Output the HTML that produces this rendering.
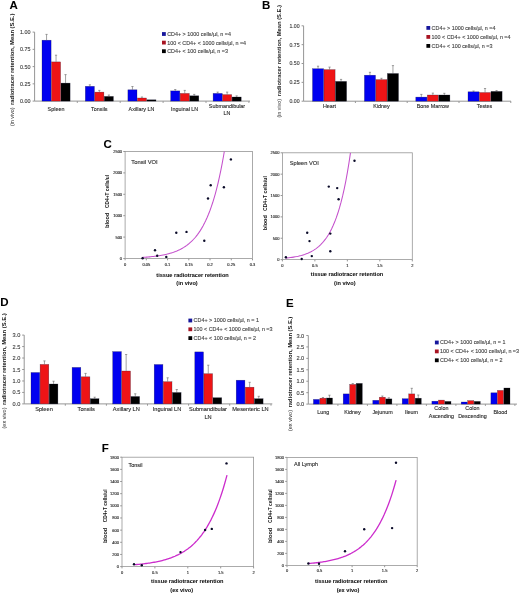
<!DOCTYPE html>
<html><head><meta charset="utf-8"><style>
html,body{margin:0;padding:0;background:#fff;}
svg{display:block;font-family:"Liberation Sans",sans-serif;filter:blur(0.35px);}
</style></head><body>
<svg width="520" height="595" viewBox="0 0 520 595">
<rect width="520" height="595" fill="#fff"/>
<text x="9.40" y="8.60" font-size="11.5" text-anchor="start" font-weight="bold" fill="#000" stroke="#000" stroke-width="0.06" >A</text>
<text x="262.00" y="9.10" font-size="11.5" text-anchor="start" font-weight="bold" fill="#000" stroke="#000" stroke-width="0.06" >B</text>
<text x="103.60" y="148.20" font-size="11.5" text-anchor="start" font-weight="bold" fill="#000" stroke="#000" stroke-width="0.06" >C</text>
<text x="0.20" y="306.00" font-size="11.5" text-anchor="start" font-weight="bold" fill="#000" stroke="#000" stroke-width="0.06" >D</text>
<text x="286.00" y="306.60" font-size="11.5" text-anchor="start" font-weight="bold" fill="#000" stroke="#000" stroke-width="0.06" >E</text>
<text x="101.80" y="452.40" font-size="11.5" text-anchor="start" font-weight="bold" fill="#000" stroke="#000" stroke-width="0.06" >F</text>
<line x1="34.60" y1="32.10" x2="34.60" y2="101.10" stroke="#969696" stroke-width="1.0"/>
<line x1="34.60" y1="101.10" x2="250.00" y2="101.10" stroke="#969696" stroke-width="1.0"/>
<line x1="32.60" y1="101.10" x2="34.60" y2="101.10" stroke="#969696" stroke-width="1.0"/>
<text x="30.60" y="103.04" font-size="5.4" text-anchor="end" font-weight="normal" fill="#404040" stroke="#404040" stroke-width="0.12" >0.00</text>
<line x1="32.60" y1="83.85" x2="34.60" y2="83.85" stroke="#969696" stroke-width="1.0"/>
<text x="30.60" y="85.79" font-size="5.4" text-anchor="end" font-weight="normal" fill="#404040" stroke="#404040" stroke-width="0.12" >0.25</text>
<line x1="32.60" y1="66.60" x2="34.60" y2="66.60" stroke="#969696" stroke-width="1.0"/>
<text x="30.60" y="68.54" font-size="5.4" text-anchor="end" font-weight="normal" fill="#404040" stroke="#404040" stroke-width="0.12" >0.50</text>
<line x1="32.60" y1="49.35" x2="34.60" y2="49.35" stroke="#969696" stroke-width="1.0"/>
<text x="30.60" y="51.29" font-size="5.4" text-anchor="end" font-weight="normal" fill="#404040" stroke="#404040" stroke-width="0.12" >0.75</text>
<line x1="32.60" y1="32.10" x2="34.60" y2="32.10" stroke="#969696" stroke-width="1.0"/>
<text x="30.60" y="34.04" font-size="5.4" text-anchor="end" font-weight="normal" fill="#404040" stroke="#404040" stroke-width="0.12" >1.00</text>
<line x1="77.30" y1="101.10" x2="77.30" y2="102.90" stroke="#969696" stroke-width="1.0"/>
<line x1="120.20" y1="101.10" x2="120.20" y2="102.90" stroke="#969696" stroke-width="1.0"/>
<line x1="163.10" y1="101.10" x2="163.10" y2="102.90" stroke="#969696" stroke-width="1.0"/>
<line x1="206.00" y1="101.10" x2="206.00" y2="102.90" stroke="#969696" stroke-width="1.0"/>
<line x1="248.90" y1="101.10" x2="248.90" y2="102.90" stroke="#969696" stroke-width="1.0"/>
<line x1="46.55" y1="34.40" x2="46.55" y2="40.00" stroke="#707070" stroke-width="0.65"/>
<line x1="45.45" y1="34.40" x2="47.65" y2="34.40" stroke="#707070" stroke-width="0.65"/>
<rect x="42.00" y="40.20" width="9.10" height="60.90" fill="#0000f0" stroke="#101030" stroke-opacity="0.55" stroke-width="0.45"/>
<line x1="56.05" y1="55.20" x2="56.05" y2="61.70" stroke="#707070" stroke-width="0.65"/>
<line x1="54.95" y1="55.20" x2="57.15" y2="55.20" stroke="#707070" stroke-width="0.65"/>
<rect x="51.50" y="61.90" width="9.10" height="39.20" fill="#ee1416" stroke="#101030" stroke-opacity="0.55" stroke-width="0.45"/>
<line x1="65.55" y1="74.60" x2="65.55" y2="82.90" stroke="#707070" stroke-width="0.65"/>
<line x1="64.45" y1="74.60" x2="66.65" y2="74.60" stroke="#707070" stroke-width="0.65"/>
<rect x="61.00" y="83.10" width="9.10" height="18.00" fill="#000000" stroke="#101030" stroke-opacity="0.55" stroke-width="0.45"/>
<line x1="89.85" y1="84.80" x2="89.85" y2="86.10" stroke="#707070" stroke-width="0.65"/>
<line x1="88.75" y1="84.80" x2="90.95" y2="84.80" stroke="#707070" stroke-width="0.65"/>
<rect x="85.30" y="86.30" width="9.10" height="14.80" fill="#0000f0" stroke="#101030" stroke-opacity="0.55" stroke-width="0.45"/>
<line x1="99.35" y1="90.40" x2="99.35" y2="91.90" stroke="#707070" stroke-width="0.65"/>
<line x1="98.25" y1="90.40" x2="100.45" y2="90.40" stroke="#707070" stroke-width="0.65"/>
<rect x="94.80" y="92.10" width="9.10" height="9.00" fill="#ee1416" stroke="#101030" stroke-opacity="0.55" stroke-width="0.45"/>
<line x1="108.85" y1="95.00" x2="108.85" y2="96.20" stroke="#707070" stroke-width="0.65"/>
<line x1="107.75" y1="95.00" x2="109.95" y2="95.00" stroke="#707070" stroke-width="0.65"/>
<rect x="104.30" y="96.40" width="9.10" height="4.70" fill="#000000" stroke="#101030" stroke-opacity="0.55" stroke-width="0.45"/>
<line x1="132.45" y1="86.50" x2="132.45" y2="89.60" stroke="#707070" stroke-width="0.65"/>
<line x1="131.35" y1="86.50" x2="133.55" y2="86.50" stroke="#707070" stroke-width="0.65"/>
<rect x="127.90" y="89.80" width="9.10" height="11.30" fill="#0000f0" stroke="#101030" stroke-opacity="0.55" stroke-width="0.45"/>
<line x1="141.95" y1="97.00" x2="141.95" y2="97.80" stroke="#707070" stroke-width="0.65"/>
<line x1="140.85" y1="97.00" x2="143.05" y2="97.00" stroke="#707070" stroke-width="0.65"/>
<rect x="137.40" y="98.00" width="9.10" height="3.10" fill="#ee1416" stroke="#101030" stroke-opacity="0.55" stroke-width="0.45"/>
<rect x="146.90" y="99.80" width="9.10" height="1.30" fill="#000000" stroke="#101030" stroke-opacity="0.55" stroke-width="0.45"/>
<line x1="175.25" y1="89.50" x2="175.25" y2="90.70" stroke="#707070" stroke-width="0.65"/>
<line x1="174.15" y1="89.50" x2="176.35" y2="89.50" stroke="#707070" stroke-width="0.65"/>
<rect x="170.70" y="90.90" width="9.10" height="10.20" fill="#0000f0" stroke="#101030" stroke-opacity="0.55" stroke-width="0.45"/>
<line x1="184.75" y1="90.40" x2="184.75" y2="93.20" stroke="#707070" stroke-width="0.65"/>
<line x1="183.65" y1="90.40" x2="185.85" y2="90.40" stroke="#707070" stroke-width="0.65"/>
<rect x="180.20" y="93.40" width="9.10" height="7.70" fill="#ee1416" stroke="#101030" stroke-opacity="0.55" stroke-width="0.45"/>
<line x1="194.25" y1="94.40" x2="194.25" y2="95.60" stroke="#707070" stroke-width="0.65"/>
<line x1="193.15" y1="94.40" x2="195.35" y2="94.40" stroke="#707070" stroke-width="0.65"/>
<rect x="189.70" y="95.80" width="9.10" height="5.30" fill="#000000" stroke="#101030" stroke-opacity="0.55" stroke-width="0.45"/>
<line x1="217.65" y1="92.10" x2="217.65" y2="93.20" stroke="#707070" stroke-width="0.65"/>
<line x1="216.55" y1="92.10" x2="218.75" y2="92.10" stroke="#707070" stroke-width="0.65"/>
<rect x="213.10" y="93.40" width="9.10" height="7.70" fill="#0000f0" stroke="#101030" stroke-opacity="0.55" stroke-width="0.45"/>
<line x1="227.15" y1="92.10" x2="227.15" y2="94.40" stroke="#707070" stroke-width="0.65"/>
<line x1="226.05" y1="92.10" x2="228.25" y2="92.10" stroke="#707070" stroke-width="0.65"/>
<rect x="222.60" y="94.60" width="9.10" height="6.50" fill="#ee1416" stroke="#101030" stroke-opacity="0.55" stroke-width="0.45"/>
<line x1="236.65" y1="95.90" x2="236.65" y2="96.80" stroke="#707070" stroke-width="0.65"/>
<line x1="235.55" y1="95.90" x2="237.75" y2="95.90" stroke="#707070" stroke-width="0.65"/>
<rect x="232.10" y="97.00" width="9.10" height="4.10" fill="#000000" stroke="#101030" stroke-opacity="0.55" stroke-width="0.45"/>
<text x="56.00" y="111.14" font-size="5.4" text-anchor="middle" font-weight="normal" fill="#2a2a2a" stroke="#2a2a2a" stroke-width="0.12" >Spleen</text>
<text x="99.30" y="111.14" font-size="5.4" text-anchor="middle" font-weight="normal" fill="#2a2a2a" stroke="#2a2a2a" stroke-width="0.12" >Tonsils</text>
<text x="141.50" y="111.14" font-size="5.4" text-anchor="middle" font-weight="normal" fill="#2a2a2a" stroke="#2a2a2a" stroke-width="0.12" >Axillary LN</text>
<text x="184.60" y="111.14" font-size="5.4" text-anchor="middle" font-weight="normal" fill="#2a2a2a" stroke="#2a2a2a" stroke-width="0.12" >Inguinal LN</text>
<text x="227.00" y="107.69" font-size="5.4" text-anchor="middle" font-weight="normal" fill="#2a2a2a" stroke="#2a2a2a" stroke-width="0.12" >Submandibular</text>
<text x="227.00" y="114.59" font-size="5.4" text-anchor="middle" font-weight="normal" fill="#2a2a2a" stroke="#2a2a2a" stroke-width="0.12" >LN</text>
<rect x="162.00" y="32.10" width="3.80" height="3.80" fill="#16169c"/>
<text x="167.20" y="35.94" font-size="5.4" text-anchor="start" font-weight="normal" fill="#444" stroke="#444" stroke-width="0.12" >CD4+ &gt; 1000 cells/µl, n =4</text>
<rect x="162.00" y="40.70" width="3.80" height="3.80" fill="#a81422"/>
<text x="167.20" y="44.54" font-size="5.4" text-anchor="start" font-weight="normal" fill="#444" stroke="#444" stroke-width="0.12" >100 &lt; CD4+ &lt; 1000 cells/µl, n =4</text>
<rect x="162.00" y="49.30" width="3.80" height="3.80" fill="#000"/>
<text x="167.20" y="53.14" font-size="5.4" text-anchor="start" font-weight="normal" fill="#444" stroke="#444" stroke-width="0.12" >CD4+ &lt; 100 cells/µl, n =3</text>
<text transform="translate(13.70,126.10) rotate(-90)" font-size="5.85" font-weight="normal" fill="#333" textLength="18.70" lengthAdjust="spacingAndGlyphs">(in vivo)</text>
<text transform="translate(13.70,104.90) rotate(-90)" font-size="5.85" font-weight="bold" fill="#111" textLength="91.30" lengthAdjust="spacingAndGlyphs">radiotracer retention, Mean (S.E.)</text>
<line x1="303.60" y1="25.80" x2="303.60" y2="101.20" stroke="#969696" stroke-width="1.0"/>
<line x1="303.60" y1="101.20" x2="511.00" y2="101.20" stroke="#969696" stroke-width="1.0"/>
<line x1="301.60" y1="101.20" x2="303.60" y2="101.20" stroke="#969696" stroke-width="1.0"/>
<text x="299.60" y="103.07" font-size="5.2" text-anchor="end" font-weight="normal" fill="#404040" stroke="#404040" stroke-width="0.12" >0.00</text>
<line x1="301.60" y1="82.35" x2="303.60" y2="82.35" stroke="#969696" stroke-width="1.0"/>
<text x="299.60" y="84.22" font-size="5.2" text-anchor="end" font-weight="normal" fill="#404040" stroke="#404040" stroke-width="0.12" >0.25</text>
<line x1="301.60" y1="63.50" x2="303.60" y2="63.50" stroke="#969696" stroke-width="1.0"/>
<text x="299.60" y="65.37" font-size="5.2" text-anchor="end" font-weight="normal" fill="#404040" stroke="#404040" stroke-width="0.12" >0.50</text>
<line x1="301.60" y1="44.65" x2="303.60" y2="44.65" stroke="#969696" stroke-width="1.0"/>
<text x="299.60" y="46.52" font-size="5.2" text-anchor="end" font-weight="normal" fill="#404040" stroke="#404040" stroke-width="0.12" >0.75</text>
<line x1="301.60" y1="25.80" x2="303.60" y2="25.80" stroke="#969696" stroke-width="1.0"/>
<text x="299.60" y="27.67" font-size="5.2" text-anchor="end" font-weight="normal" fill="#404040" stroke="#404040" stroke-width="0.12" >1.00</text>
<line x1="355.40" y1="101.20" x2="355.40" y2="103.00" stroke="#969696" stroke-width="1.0"/>
<line x1="407.20" y1="101.20" x2="407.20" y2="103.00" stroke="#969696" stroke-width="1.0"/>
<line x1="459.00" y1="101.20" x2="459.00" y2="103.00" stroke="#969696" stroke-width="1.0"/>
<line x1="510.80" y1="101.20" x2="510.80" y2="103.00" stroke="#969696" stroke-width="1.0"/>
<line x1="318.05" y1="66.20" x2="318.05" y2="68.50" stroke="#707070" stroke-width="0.65"/>
<line x1="316.95" y1="66.20" x2="319.15" y2="66.20" stroke="#707070" stroke-width="0.65"/>
<rect x="312.50" y="68.70" width="11.10" height="32.50" fill="#0000f0" stroke="#101030" stroke-opacity="0.55" stroke-width="0.45"/>
<line x1="329.55" y1="67.10" x2="329.55" y2="69.40" stroke="#707070" stroke-width="0.65"/>
<line x1="328.45" y1="67.10" x2="330.65" y2="67.10" stroke="#707070" stroke-width="0.65"/>
<rect x="324.00" y="69.60" width="11.10" height="31.60" fill="#ee1416" stroke="#101030" stroke-opacity="0.55" stroke-width="0.45"/>
<line x1="341.05" y1="79.40" x2="341.05" y2="81.20" stroke="#707070" stroke-width="0.65"/>
<line x1="339.95" y1="79.40" x2="342.15" y2="79.40" stroke="#707070" stroke-width="0.65"/>
<rect x="335.50" y="81.40" width="11.10" height="19.80" fill="#000000" stroke="#101030" stroke-opacity="0.55" stroke-width="0.45"/>
<line x1="369.95" y1="72.30" x2="369.95" y2="75.00" stroke="#707070" stroke-width="0.65"/>
<line x1="368.85" y1="72.30" x2="371.05" y2="72.30" stroke="#707070" stroke-width="0.65"/>
<rect x="364.40" y="75.20" width="11.10" height="26.00" fill="#0000f0" stroke="#101030" stroke-opacity="0.55" stroke-width="0.45"/>
<line x1="381.45" y1="78.30" x2="381.45" y2="79.40" stroke="#707070" stroke-width="0.65"/>
<line x1="380.35" y1="78.30" x2="382.55" y2="78.30" stroke="#707070" stroke-width="0.65"/>
<rect x="375.90" y="79.60" width="11.10" height="21.60" fill="#ee1416" stroke="#101030" stroke-opacity="0.55" stroke-width="0.45"/>
<line x1="392.95" y1="65.60" x2="392.95" y2="73.30" stroke="#707070" stroke-width="0.65"/>
<line x1="391.85" y1="65.60" x2="394.05" y2="65.60" stroke="#707070" stroke-width="0.65"/>
<rect x="387.40" y="73.50" width="11.10" height="27.70" fill="#000000" stroke="#101030" stroke-opacity="0.55" stroke-width="0.45"/>
<line x1="421.35" y1="94.40" x2="421.35" y2="96.90" stroke="#707070" stroke-width="0.65"/>
<line x1="420.25" y1="94.40" x2="422.45" y2="94.40" stroke="#707070" stroke-width="0.65"/>
<rect x="415.80" y="97.10" width="11.10" height="4.10" fill="#0000f0" stroke="#101030" stroke-opacity="0.55" stroke-width="0.45"/>
<line x1="432.85" y1="93.10" x2="432.85" y2="94.80" stroke="#707070" stroke-width="0.65"/>
<line x1="431.75" y1="93.10" x2="433.95" y2="93.10" stroke="#707070" stroke-width="0.65"/>
<rect x="427.30" y="95.00" width="11.10" height="6.20" fill="#ee1416" stroke="#101030" stroke-opacity="0.55" stroke-width="0.45"/>
<line x1="444.35" y1="93.30" x2="444.35" y2="94.80" stroke="#707070" stroke-width="0.65"/>
<line x1="443.25" y1="93.30" x2="445.45" y2="93.30" stroke="#707070" stroke-width="0.65"/>
<rect x="438.80" y="95.00" width="11.10" height="6.20" fill="#000000" stroke="#101030" stroke-opacity="0.55" stroke-width="0.45"/>
<line x1="473.55" y1="91.00" x2="473.55" y2="91.60" stroke="#707070" stroke-width="0.65"/>
<line x1="472.45" y1="91.00" x2="474.65" y2="91.00" stroke="#707070" stroke-width="0.65"/>
<rect x="468.00" y="91.80" width="11.10" height="9.40" fill="#0000f0" stroke="#101030" stroke-opacity="0.55" stroke-width="0.45"/>
<line x1="485.05" y1="88.50" x2="485.05" y2="92.30" stroke="#707070" stroke-width="0.65"/>
<line x1="483.95" y1="88.50" x2="486.15" y2="88.50" stroke="#707070" stroke-width="0.65"/>
<rect x="479.50" y="92.50" width="11.10" height="8.70" fill="#ee1416" stroke="#101030" stroke-opacity="0.55" stroke-width="0.45"/>
<line x1="496.55" y1="90.60" x2="496.55" y2="91.20" stroke="#707070" stroke-width="0.65"/>
<line x1="495.45" y1="90.60" x2="497.65" y2="90.60" stroke="#707070" stroke-width="0.65"/>
<rect x="491.00" y="91.40" width="11.10" height="9.80" fill="#000000" stroke="#101030" stroke-opacity="0.55" stroke-width="0.45"/>
<text x="329.50" y="107.74" font-size="5.4" text-anchor="middle" font-weight="normal" fill="#2a2a2a" stroke="#2a2a2a" stroke-width="0.12" >Heart</text>
<text x="381.50" y="107.74" font-size="5.4" text-anchor="middle" font-weight="normal" fill="#2a2a2a" stroke="#2a2a2a" stroke-width="0.12" >Kidney</text>
<text x="432.80" y="107.74" font-size="5.4" text-anchor="middle" font-weight="normal" fill="#2a2a2a" stroke="#2a2a2a" stroke-width="0.12" >Bone Marrow</text>
<text x="484.50" y="107.74" font-size="5.4" text-anchor="middle" font-weight="normal" fill="#2a2a2a" stroke="#2a2a2a" stroke-width="0.12" >Testes</text>
<rect x="426.40" y="26.00" width="3.80" height="3.80" fill="#16169c"/>
<text x="431.60" y="29.84" font-size="5.4" text-anchor="start" font-weight="normal" fill="#444" stroke="#444" stroke-width="0.12" >CD4+ &gt; 1000 cells/µl, n =4</text>
<rect x="426.40" y="35.00" width="3.80" height="3.80" fill="#a81422"/>
<text x="431.60" y="38.84" font-size="5.4" text-anchor="start" font-weight="normal" fill="#444" stroke="#444" stroke-width="0.12" >100 &lt; CD4+ &lt; 1000 cells/µl, n =4</text>
<rect x="426.40" y="44.00" width="3.80" height="3.80" fill="#000"/>
<text x="431.60" y="47.84" font-size="5.4" text-anchor="start" font-weight="normal" fill="#444" stroke="#444" stroke-width="0.12" >CD4+ &lt; 100 cells/µl, n =3</text>
<text transform="translate(281.00,117.40) rotate(-90)" font-size="5.85" font-weight="normal" fill="#333" textLength="18.30" lengthAdjust="spacingAndGlyphs">(in vivo)</text>
<text transform="translate(281.00,96.20) rotate(-90)" font-size="5.85" font-weight="bold" fill="#1a1a1a" textLength="91.20" lengthAdjust="spacingAndGlyphs">radiotracer retention, Mean (S.E.)</text>
<rect x="125.1" y="151.5" width="127.4" height="107.0" fill="none" stroke="#969696" stroke-width="0.8"/>
<line x1="123.30" y1="258.50" x2="125.10" y2="258.50" stroke="#969696" stroke-width="1.0"/>
<text x="122.10" y="259.94" font-size="4.0" text-anchor="end" font-weight="normal" fill="#222" stroke="#222" stroke-width="0.12" >0</text>
<line x1="123.30" y1="237.10" x2="125.10" y2="237.10" stroke="#969696" stroke-width="1.0"/>
<text x="122.10" y="238.54" font-size="4.0" text-anchor="end" font-weight="normal" fill="#222" stroke="#222" stroke-width="0.12" >500</text>
<line x1="123.30" y1="215.70" x2="125.10" y2="215.70" stroke="#969696" stroke-width="1.0"/>
<text x="122.10" y="217.14" font-size="4.0" text-anchor="end" font-weight="normal" fill="#222" stroke="#222" stroke-width="0.12" >1000</text>
<line x1="123.30" y1="194.30" x2="125.10" y2="194.30" stroke="#969696" stroke-width="1.0"/>
<text x="122.10" y="195.74" font-size="4.0" text-anchor="end" font-weight="normal" fill="#222" stroke="#222" stroke-width="0.12" >1500</text>
<line x1="123.30" y1="172.90" x2="125.10" y2="172.90" stroke="#969696" stroke-width="1.0"/>
<text x="122.10" y="174.34" font-size="4.0" text-anchor="end" font-weight="normal" fill="#222" stroke="#222" stroke-width="0.12" >2000</text>
<line x1="123.30" y1="151.50" x2="125.10" y2="151.50" stroke="#969696" stroke-width="1.0"/>
<text x="122.10" y="152.94" font-size="4.0" text-anchor="end" font-weight="normal" fill="#222" stroke="#222" stroke-width="0.12" >2500</text>
<line x1="125.10" y1="258.50" x2="125.10" y2="260.30" stroke="#969696" stroke-width="1.0"/>
<text x="125.10" y="265.54" font-size="4.0" text-anchor="middle" font-weight="normal" fill="#222" stroke="#222" stroke-width="0.12" >0</text>
<line x1="146.33" y1="258.50" x2="146.33" y2="260.30" stroke="#969696" stroke-width="1.0"/>
<text x="146.33" y="265.54" font-size="4.0" text-anchor="middle" font-weight="normal" fill="#222" stroke="#222" stroke-width="0.12" >0.05</text>
<line x1="167.57" y1="258.50" x2="167.57" y2="260.30" stroke="#969696" stroke-width="1.0"/>
<text x="167.57" y="265.54" font-size="4.0" text-anchor="middle" font-weight="normal" fill="#222" stroke="#222" stroke-width="0.12" >0.1</text>
<line x1="188.80" y1="258.50" x2="188.80" y2="260.30" stroke="#969696" stroke-width="1.0"/>
<text x="188.80" y="265.54" font-size="4.0" text-anchor="middle" font-weight="normal" fill="#222" stroke="#222" stroke-width="0.12" >0.15</text>
<line x1="210.03" y1="258.50" x2="210.03" y2="260.30" stroke="#969696" stroke-width="1.0"/>
<text x="210.03" y="265.54" font-size="4.0" text-anchor="middle" font-weight="normal" fill="#222" stroke="#222" stroke-width="0.12" >0.2</text>
<line x1="231.27" y1="258.50" x2="231.27" y2="260.30" stroke="#969696" stroke-width="1.0"/>
<text x="231.27" y="265.54" font-size="4.0" text-anchor="middle" font-weight="normal" fill="#222" stroke="#222" stroke-width="0.12" >0.25</text>
<line x1="252.50" y1="258.50" x2="252.50" y2="260.30" stroke="#969696" stroke-width="1.0"/>
<text x="252.50" y="265.54" font-size="4.0" text-anchor="middle" font-weight="normal" fill="#222" stroke="#222" stroke-width="0.12" >0.3</text>
<path d="M142.51,257.39 L143.89,257.30 L145.26,257.21 L146.64,257.11 L148.01,256.99 L149.39,256.87 L150.76,256.74 L152.14,256.60 L153.51,256.45 L154.89,256.29 L156.26,256.11 L157.63,255.92 L159.01,255.72 L160.38,255.49 L161.76,255.25 L163.13,254.99 L164.51,254.71 L165.88,254.41 L167.26,254.09 L168.63,253.73 L170.01,253.35 L171.38,252.94 L172.76,252.50 L174.13,252.02 L175.51,251.50 L176.88,250.94 L178.26,250.34 L179.63,249.69 L181.01,248.98 L182.38,248.22 L183.76,247.40 L185.13,246.52 L186.51,245.56 L187.88,244.52 L189.26,243.41 L190.63,242.20 L192.01,240.90 L193.38,239.50 L194.76,237.98 L196.13,236.34 L197.51,234.57 L198.88,232.66 L200.26,230.60 L201.63,228.37 L203.01,225.96 L204.38,223.36 L205.75,220.56 L207.13,217.53 L208.50,214.26 L209.88,210.72 L211.25,206.91 L212.63,202.79 L214.00,198.34 L215.38,193.54 L216.75,188.35 L218.13,182.75 L219.50,176.70 L220.88,170.17 L222.25,163.11 L223.63,155.49 L224.31,151.50" fill="none" stroke="#c450cc" stroke-width="1.05"/>
<circle cx="142.60" cy="258.20" r="1.2" fill="#0a0a28"/>
<circle cx="155.00" cy="250.20" r="1.2" fill="#0a0a28"/>
<circle cx="157.20" cy="255.80" r="1.2" fill="#0a0a28"/>
<circle cx="166.30" cy="256.90" r="1.2" fill="#0a0a28"/>
<circle cx="176.30" cy="232.70" r="1.2" fill="#0a0a28"/>
<circle cx="186.50" cy="231.90" r="1.2" fill="#0a0a28"/>
<circle cx="204.30" cy="240.70" r="1.2" fill="#0a0a28"/>
<circle cx="208.00" cy="198.50" r="1.2" fill="#0a0a28"/>
<circle cx="210.70" cy="185.30" r="1.2" fill="#0a0a28"/>
<circle cx="223.90" cy="187.20" r="1.2" fill="#0a0a28"/>
<circle cx="230.90" cy="159.40" r="1.2" fill="#0a0a28"/>
<text x="131.30" y="163.59" font-size="5.8" text-anchor="start" font-weight="normal" fill="#2a2a2a" stroke="#2a2a2a" stroke-width="0.12" >Tonsil VOI</text>
<text x="192.50" y="276.52" font-size="5.6" text-anchor="middle" font-weight="bold" fill="#111" stroke="#111" stroke-width="0.06" >tissue radiotracer retention</text>
<text x="187.00" y="285.22" font-size="5.6" text-anchor="middle" font-weight="bold" fill="#111" stroke="#111" stroke-width="0.06" >(in vivo)</text>
<text transform="translate(109.10,228.10) rotate(-90)" font-size="5.7" font-weight="bold" fill="#111" textLength="15.50" lengthAdjust="spacingAndGlyphs">blood</text>
<text transform="translate(109.10,207.90) rotate(-90)" font-size="5.7" font-weight="bold" fill="#111" textLength="33.00" lengthAdjust="spacingAndGlyphs">CD4+T cells/ul</text>
<rect x="282.4" y="152.8" width="129.90000000000003" height="106.80000000000001" fill="none" stroke="#969696" stroke-width="0.8"/>
<line x1="280.60" y1="259.60" x2="282.40" y2="259.60" stroke="#969696" stroke-width="1.0"/>
<text x="279.40" y="261.04" font-size="4.0" text-anchor="end" font-weight="normal" fill="#222" stroke="#222" stroke-width="0.12" >0</text>
<line x1="280.60" y1="238.24" x2="282.40" y2="238.24" stroke="#969696" stroke-width="1.0"/>
<text x="279.40" y="239.68" font-size="4.0" text-anchor="end" font-weight="normal" fill="#222" stroke="#222" stroke-width="0.12" >500</text>
<line x1="280.60" y1="216.88" x2="282.40" y2="216.88" stroke="#969696" stroke-width="1.0"/>
<text x="279.40" y="218.32" font-size="4.0" text-anchor="end" font-weight="normal" fill="#222" stroke="#222" stroke-width="0.12" >1000</text>
<line x1="280.60" y1="195.52" x2="282.40" y2="195.52" stroke="#969696" stroke-width="1.0"/>
<text x="279.40" y="196.96" font-size="4.0" text-anchor="end" font-weight="normal" fill="#222" stroke="#222" stroke-width="0.12" >1500</text>
<line x1="280.60" y1="174.16" x2="282.40" y2="174.16" stroke="#969696" stroke-width="1.0"/>
<text x="279.40" y="175.60" font-size="4.0" text-anchor="end" font-weight="normal" fill="#222" stroke="#222" stroke-width="0.12" >2000</text>
<line x1="280.60" y1="152.80" x2="282.40" y2="152.80" stroke="#969696" stroke-width="1.0"/>
<text x="279.40" y="154.24" font-size="4.0" text-anchor="end" font-weight="normal" fill="#222" stroke="#222" stroke-width="0.12" >2500</text>
<line x1="282.40" y1="259.60" x2="282.40" y2="261.40" stroke="#969696" stroke-width="1.0"/>
<text x="282.40" y="266.64" font-size="4.0" text-anchor="middle" font-weight="normal" fill="#222" stroke="#222" stroke-width="0.12" >0</text>
<line x1="314.88" y1="259.60" x2="314.88" y2="261.40" stroke="#969696" stroke-width="1.0"/>
<text x="314.88" y="266.64" font-size="4.0" text-anchor="middle" font-weight="normal" fill="#222" stroke="#222" stroke-width="0.12" >0.5</text>
<line x1="347.35" y1="259.60" x2="347.35" y2="261.40" stroke="#969696" stroke-width="1.0"/>
<text x="347.35" y="266.64" font-size="4.0" text-anchor="middle" font-weight="normal" fill="#222" stroke="#222" stroke-width="0.12" >1</text>
<line x1="379.82" y1="259.60" x2="379.82" y2="261.40" stroke="#969696" stroke-width="1.0"/>
<text x="379.82" y="266.64" font-size="4.0" text-anchor="middle" font-weight="normal" fill="#222" stroke="#222" stroke-width="0.12" >1.5</text>
<line x1="412.30" y1="259.60" x2="412.30" y2="261.40" stroke="#969696" stroke-width="1.0"/>
<text x="412.30" y="266.64" font-size="4.0" text-anchor="middle" font-weight="normal" fill="#222" stroke="#222" stroke-width="0.12" >2</text>
<path d="M285.65,258.12 L287.23,257.96 L288.81,257.78 L290.40,257.58 L291.98,257.36 L293.56,257.11 L295.15,256.83 L296.73,256.53 L298.31,256.19 L299.90,255.81 L301.48,255.40 L303.06,254.93 L304.65,254.42 L306.23,253.85 L307.81,253.21 L309.39,252.51 L310.98,251.73 L312.56,250.86 L314.14,249.90 L315.73,248.83 L317.31,247.64 L318.89,246.32 L320.48,244.86 L322.06,243.24 L323.64,241.43 L325.23,239.43 L326.81,237.21 L328.39,234.74 L329.98,232.00 L331.56,228.95 L333.14,225.57 L334.73,221.82 L336.31,217.66 L337.89,213.04 L339.47,207.90 L341.06,202.21 L342.64,195.88 L344.22,188.85 L345.81,181.06 L347.39,172.40 L348.97,162.79 L350.46,152.80" fill="none" stroke="#c450cc" stroke-width="1.05"/>
<circle cx="285.90" cy="257.30" r="1.2" fill="#0a0a28"/>
<circle cx="301.70" cy="259.00" r="1.2" fill="#0a0a28"/>
<circle cx="307.20" cy="232.80" r="1.2" fill="#0a0a28"/>
<circle cx="309.50" cy="241.10" r="1.2" fill="#0a0a28"/>
<circle cx="311.80" cy="256.10" r="1.2" fill="#0a0a28"/>
<circle cx="328.80" cy="186.60" r="1.2" fill="#0a0a28"/>
<circle cx="330.30" cy="233.60" r="1.2" fill="#0a0a28"/>
<circle cx="330.30" cy="251.20" r="1.2" fill="#0a0a28"/>
<circle cx="337.20" cy="188.10" r="1.2" fill="#0a0a28"/>
<circle cx="338.60" cy="199.30" r="1.2" fill="#0a0a28"/>
<circle cx="354.50" cy="160.70" r="1.2" fill="#0a0a28"/>
<text x="289.70" y="165.05" font-size="5.7" text-anchor="start" font-weight="normal" fill="#2a2a2a" stroke="#2a2a2a" stroke-width="0.12" >Spleen VOI</text>
<text x="347.00" y="275.52" font-size="5.6" text-anchor="middle" font-weight="bold" fill="#111" stroke="#111" stroke-width="0.06" >tissue radiotracer retention</text>
<text x="344.80" y="285.02" font-size="5.6" text-anchor="middle" font-weight="bold" fill="#111" stroke="#111" stroke-width="0.06" >(in vivo)</text>
<text transform="translate(266.80,230.20) rotate(-90)" font-size="5.7" font-weight="bold" fill="#111" textLength="15.00" lengthAdjust="spacingAndGlyphs">blood</text>
<text transform="translate(266.80,211.00) rotate(-90)" font-size="5.7" font-weight="bold" fill="#111" textLength="34.80" lengthAdjust="spacingAndGlyphs">CD4+T cells/ul</text>
<line x1="24.20" y1="335.10" x2="24.20" y2="403.90" stroke="#969696" stroke-width="1.0"/>
<line x1="24.20" y1="403.90" x2="272.30" y2="403.90" stroke="#969696" stroke-width="1.0"/>
<line x1="22.20" y1="403.90" x2="24.20" y2="403.90" stroke="#969696" stroke-width="1.0"/>
<text x="20.40" y="405.92" font-size="5.6" text-anchor="end" font-weight="normal" fill="#404040" stroke="#404040" stroke-width="0.12" >0.0</text>
<line x1="22.20" y1="392.43" x2="24.20" y2="392.43" stroke="#969696" stroke-width="1.0"/>
<text x="20.40" y="394.45" font-size="5.6" text-anchor="end" font-weight="normal" fill="#404040" stroke="#404040" stroke-width="0.12" >0.5</text>
<line x1="22.20" y1="380.97" x2="24.20" y2="380.97" stroke="#969696" stroke-width="1.0"/>
<text x="20.40" y="382.98" font-size="5.6" text-anchor="end" font-weight="normal" fill="#404040" stroke="#404040" stroke-width="0.12" >1.0</text>
<line x1="22.20" y1="369.50" x2="24.20" y2="369.50" stroke="#969696" stroke-width="1.0"/>
<text x="20.40" y="371.52" font-size="5.6" text-anchor="end" font-weight="normal" fill="#404040" stroke="#404040" stroke-width="0.12" >1.5</text>
<line x1="22.20" y1="358.03" x2="24.20" y2="358.03" stroke="#969696" stroke-width="1.0"/>
<text x="20.40" y="360.05" font-size="5.6" text-anchor="end" font-weight="normal" fill="#404040" stroke="#404040" stroke-width="0.12" >2.0</text>
<line x1="22.20" y1="346.57" x2="24.20" y2="346.57" stroke="#969696" stroke-width="1.0"/>
<text x="20.40" y="348.58" font-size="5.6" text-anchor="end" font-weight="normal" fill="#404040" stroke="#404040" stroke-width="0.12" >2.5</text>
<line x1="22.20" y1="335.10" x2="24.20" y2="335.10" stroke="#969696" stroke-width="1.0"/>
<text x="20.40" y="337.12" font-size="5.6" text-anchor="end" font-weight="normal" fill="#404040" stroke="#404040" stroke-width="0.12" >3.0</text>
<line x1="65.30" y1="403.90" x2="65.30" y2="405.70" stroke="#969696" stroke-width="1.0"/>
<line x1="106.40" y1="403.90" x2="106.40" y2="405.70" stroke="#969696" stroke-width="1.0"/>
<line x1="147.50" y1="403.90" x2="147.50" y2="405.70" stroke="#969696" stroke-width="1.0"/>
<line x1="188.60" y1="403.90" x2="188.60" y2="405.70" stroke="#969696" stroke-width="1.0"/>
<line x1="229.70" y1="403.90" x2="229.70" y2="405.70" stroke="#969696" stroke-width="1.0"/>
<line x1="271.00" y1="403.90" x2="271.00" y2="405.70" stroke="#969696" stroke-width="1.0"/>
<rect x="31.00" y="372.50" width="8.70" height="31.40" fill="#0000f0" stroke="#101030" stroke-opacity="0.55" stroke-width="0.45"/>
<line x1="44.45" y1="360.90" x2="44.45" y2="364.20" stroke="#707070" stroke-width="0.65"/>
<line x1="43.35" y1="360.90" x2="45.55" y2="360.90" stroke="#707070" stroke-width="0.65"/>
<rect x="40.10" y="364.40" width="8.70" height="39.50" fill="#ee1416" stroke="#101030" stroke-opacity="0.55" stroke-width="0.45"/>
<line x1="53.55" y1="381.20" x2="53.55" y2="383.80" stroke="#707070" stroke-width="0.65"/>
<line x1="52.45" y1="381.20" x2="54.65" y2="381.20" stroke="#707070" stroke-width="0.65"/>
<rect x="49.20" y="384.00" width="8.70" height="19.90" fill="#000000" stroke="#101030" stroke-opacity="0.55" stroke-width="0.45"/>
<rect x="72.10" y="367.40" width="8.70" height="36.50" fill="#0000f0" stroke="#101030" stroke-opacity="0.55" stroke-width="0.45"/>
<line x1="85.55" y1="373.40" x2="85.55" y2="376.60" stroke="#707070" stroke-width="0.65"/>
<line x1="84.45" y1="373.40" x2="86.65" y2="373.40" stroke="#707070" stroke-width="0.65"/>
<rect x="81.20" y="376.80" width="8.70" height="27.10" fill="#ee1416" stroke="#101030" stroke-opacity="0.55" stroke-width="0.45"/>
<line x1="94.65" y1="397.20" x2="94.65" y2="398.50" stroke="#707070" stroke-width="0.65"/>
<line x1="93.55" y1="397.20" x2="95.75" y2="397.20" stroke="#707070" stroke-width="0.65"/>
<rect x="90.30" y="398.70" width="8.70" height="5.20" fill="#000000" stroke="#101030" stroke-opacity="0.55" stroke-width="0.45"/>
<rect x="112.70" y="351.60" width="8.70" height="52.30" fill="#0000f0" stroke="#101030" stroke-opacity="0.55" stroke-width="0.45"/>
<line x1="126.15" y1="354.50" x2="126.15" y2="370.80" stroke="#707070" stroke-width="0.65"/>
<line x1="125.05" y1="354.50" x2="127.25" y2="354.50" stroke="#707070" stroke-width="0.65"/>
<rect x="121.80" y="371.00" width="8.70" height="32.90" fill="#ee1416" stroke="#101030" stroke-opacity="0.55" stroke-width="0.45"/>
<line x1="135.25" y1="393.80" x2="135.25" y2="396.30" stroke="#707070" stroke-width="0.65"/>
<line x1="134.15" y1="393.80" x2="136.35" y2="393.80" stroke="#707070" stroke-width="0.65"/>
<rect x="130.90" y="396.50" width="8.70" height="7.40" fill="#000000" stroke="#101030" stroke-opacity="0.55" stroke-width="0.45"/>
<rect x="154.20" y="364.50" width="8.70" height="39.40" fill="#0000f0" stroke="#101030" stroke-opacity="0.55" stroke-width="0.45"/>
<line x1="167.65" y1="377.80" x2="167.65" y2="381.50" stroke="#707070" stroke-width="0.65"/>
<line x1="166.55" y1="377.80" x2="168.75" y2="377.80" stroke="#707070" stroke-width="0.65"/>
<rect x="163.30" y="381.70" width="8.70" height="22.20" fill="#ee1416" stroke="#101030" stroke-opacity="0.55" stroke-width="0.45"/>
<line x1="176.75" y1="389.50" x2="176.75" y2="392.30" stroke="#707070" stroke-width="0.65"/>
<line x1="175.65" y1="389.50" x2="177.85" y2="389.50" stroke="#707070" stroke-width="0.65"/>
<rect x="172.40" y="392.50" width="8.70" height="11.40" fill="#000000" stroke="#101030" stroke-opacity="0.55" stroke-width="0.45"/>
<rect x="194.80" y="351.90" width="8.70" height="52.00" fill="#0000f0" stroke="#101030" stroke-opacity="0.55" stroke-width="0.45"/>
<line x1="208.25" y1="365.20" x2="208.25" y2="373.50" stroke="#707070" stroke-width="0.65"/>
<line x1="207.15" y1="365.20" x2="209.35" y2="365.20" stroke="#707070" stroke-width="0.65"/>
<rect x="203.90" y="373.70" width="8.70" height="30.20" fill="#ee1416" stroke="#101030" stroke-opacity="0.55" stroke-width="0.45"/>
<rect x="213.00" y="397.70" width="8.70" height="6.20" fill="#000000" stroke="#101030" stroke-opacity="0.55" stroke-width="0.45"/>
<rect x="236.20" y="380.20" width="8.70" height="23.70" fill="#0000f0" stroke="#101030" stroke-opacity="0.55" stroke-width="0.45"/>
<line x1="249.65" y1="382.30" x2="249.65" y2="387.00" stroke="#707070" stroke-width="0.65"/>
<line x1="248.55" y1="382.30" x2="250.75" y2="382.30" stroke="#707070" stroke-width="0.65"/>
<rect x="245.30" y="387.20" width="8.70" height="16.70" fill="#ee1416" stroke="#101030" stroke-opacity="0.55" stroke-width="0.45"/>
<line x1="258.75" y1="396.30" x2="258.75" y2="398.50" stroke="#707070" stroke-width="0.65"/>
<line x1="257.65" y1="396.30" x2="259.85" y2="396.30" stroke="#707070" stroke-width="0.65"/>
<rect x="254.40" y="398.70" width="8.70" height="5.20" fill="#000000" stroke="#101030" stroke-opacity="0.55" stroke-width="0.45"/>
<text x="44.00" y="411.13" font-size="5.65" text-anchor="middle" font-weight="normal" fill="#2a2a2a" stroke="#2a2a2a" stroke-width="0.12" >Spleen</text>
<text x="86.20" y="411.13" font-size="5.65" text-anchor="middle" font-weight="normal" fill="#2a2a2a" stroke="#2a2a2a" stroke-width="0.12" >Tonsils</text>
<text x="126.30" y="411.13" font-size="5.65" text-anchor="middle" font-weight="normal" fill="#2a2a2a" stroke="#2a2a2a" stroke-width="0.12" >Axillary LN</text>
<text x="167.00" y="411.13" font-size="5.65" text-anchor="middle" font-weight="normal" fill="#2a2a2a" stroke="#2a2a2a" stroke-width="0.12" >Inguinal LN</text>
<text x="208.00" y="411.13" font-size="5.65" text-anchor="middle" font-weight="normal" fill="#2a2a2a" stroke="#2a2a2a" stroke-width="0.12" >Submandibular</text>
<text x="208.00" y="419.33" font-size="5.65" text-anchor="middle" font-weight="normal" fill="#2a2a2a" stroke="#2a2a2a" stroke-width="0.12" >LN</text>
<text x="250.50" y="411.13" font-size="5.65" text-anchor="middle" font-weight="normal" fill="#2a2a2a" stroke="#2a2a2a" stroke-width="0.12" >Mesenteric LN</text>
<rect x="188.40" y="318.60" width="3.80" height="3.80" fill="#16169c"/>
<text x="193.60" y="322.44" font-size="5.4" text-anchor="start" font-weight="normal" fill="#444" stroke="#444" stroke-width="0.12" >CD4+ &gt; 1000 cells/µl, n = 1</text>
<rect x="188.40" y="327.40" width="3.80" height="3.80" fill="#a81422"/>
<text x="193.60" y="331.24" font-size="5.4" text-anchor="start" font-weight="normal" fill="#444" stroke="#444" stroke-width="0.12" >100 &lt; CD4+ &lt; 1000 cells/µl, n =3</text>
<rect x="188.40" y="336.20" width="3.80" height="3.80" fill="#000"/>
<text x="193.60" y="340.04" font-size="5.4" text-anchor="start" font-weight="normal" fill="#444" stroke="#444" stroke-width="0.12" >CD4+ &lt; 100 cells/µl, n = 2</text>
<text transform="translate(6.00,428.50) rotate(-90)" font-size="5.85" font-weight="normal" fill="#333" textLength="21.00" lengthAdjust="spacingAndGlyphs">(ex vivo)</text>
<text transform="translate(6.00,405.00) rotate(-90)" font-size="5.85" font-weight="bold" fill="#111" textLength="91.70" lengthAdjust="spacingAndGlyphs">radiotracer retention, Mean (S.E.)</text>
<line x1="308.30" y1="335.50" x2="308.30" y2="404.10" stroke="#969696" stroke-width="1.0"/>
<line x1="308.30" y1="404.10" x2="517.00" y2="404.10" stroke="#969696" stroke-width="1.0"/>
<line x1="306.30" y1="404.10" x2="308.30" y2="404.10" stroke="#969696" stroke-width="1.0"/>
<text x="304.20" y="406.12" font-size="5.6" text-anchor="end" font-weight="normal" fill="#404040" stroke="#404040" stroke-width="0.12" >0.0</text>
<line x1="306.30" y1="392.67" x2="308.30" y2="392.67" stroke="#969696" stroke-width="1.0"/>
<text x="304.20" y="394.68" font-size="5.6" text-anchor="end" font-weight="normal" fill="#404040" stroke="#404040" stroke-width="0.12" >0.5</text>
<line x1="306.30" y1="381.23" x2="308.30" y2="381.23" stroke="#969696" stroke-width="1.0"/>
<text x="304.20" y="383.25" font-size="5.6" text-anchor="end" font-weight="normal" fill="#404040" stroke="#404040" stroke-width="0.12" >1.0</text>
<line x1="306.30" y1="369.80" x2="308.30" y2="369.80" stroke="#969696" stroke-width="1.0"/>
<text x="304.20" y="371.82" font-size="5.6" text-anchor="end" font-weight="normal" fill="#404040" stroke="#404040" stroke-width="0.12" >1.5</text>
<line x1="306.30" y1="358.37" x2="308.30" y2="358.37" stroke="#969696" stroke-width="1.0"/>
<text x="304.20" y="360.38" font-size="5.6" text-anchor="end" font-weight="normal" fill="#404040" stroke="#404040" stroke-width="0.12" >2.0</text>
<line x1="306.30" y1="346.93" x2="308.30" y2="346.93" stroke="#969696" stroke-width="1.0"/>
<text x="304.20" y="348.95" font-size="5.6" text-anchor="end" font-weight="normal" fill="#404040" stroke="#404040" stroke-width="0.12" >2.5</text>
<line x1="306.30" y1="335.50" x2="308.30" y2="335.50" stroke="#969696" stroke-width="1.0"/>
<text x="304.20" y="337.52" font-size="5.6" text-anchor="end" font-weight="normal" fill="#404040" stroke="#404040" stroke-width="0.12" >3.0</text>
<line x1="337.90" y1="404.10" x2="337.90" y2="405.90" stroke="#969696" stroke-width="1.0"/>
<line x1="367.40" y1="404.10" x2="367.40" y2="405.90" stroke="#969696" stroke-width="1.0"/>
<line x1="396.90" y1="404.10" x2="396.90" y2="405.90" stroke="#969696" stroke-width="1.0"/>
<line x1="426.40" y1="404.10" x2="426.40" y2="405.90" stroke="#969696" stroke-width="1.0"/>
<line x1="455.90" y1="404.10" x2="455.90" y2="405.90" stroke="#969696" stroke-width="1.0"/>
<line x1="485.40" y1="404.10" x2="485.40" y2="405.90" stroke="#969696" stroke-width="1.0"/>
<line x1="514.90" y1="404.10" x2="514.90" y2="405.90" stroke="#969696" stroke-width="1.0"/>
<rect x="313.40" y="399.40" width="6.10" height="4.70" fill="#0000f0" stroke="#101030" stroke-opacity="0.55" stroke-width="0.45"/>
<line x1="322.95" y1="397.50" x2="322.95" y2="398.00" stroke="#707070" stroke-width="0.65"/>
<line x1="321.85" y1="397.50" x2="324.05" y2="397.50" stroke="#707070" stroke-width="0.65"/>
<rect x="319.90" y="398.20" width="6.10" height="5.90" fill="#ee1416" stroke="#101030" stroke-opacity="0.55" stroke-width="0.45"/>
<line x1="329.45" y1="395.20" x2="329.45" y2="397.80" stroke="#707070" stroke-width="0.65"/>
<line x1="328.35" y1="395.20" x2="330.55" y2="395.20" stroke="#707070" stroke-width="0.65"/>
<rect x="326.40" y="398.00" width="6.10" height="6.10" fill="#000000" stroke="#101030" stroke-opacity="0.55" stroke-width="0.45"/>
<rect x="343.20" y="393.90" width="6.10" height="10.20" fill="#0000f0" stroke="#101030" stroke-opacity="0.55" stroke-width="0.45"/>
<line x1="352.75" y1="383.50" x2="352.75" y2="384.20" stroke="#707070" stroke-width="0.65"/>
<line x1="351.65" y1="383.50" x2="353.85" y2="383.50" stroke="#707070" stroke-width="0.65"/>
<rect x="349.70" y="384.40" width="6.10" height="19.70" fill="#ee1416" stroke="#101030" stroke-opacity="0.55" stroke-width="0.45"/>
<rect x="356.20" y="383.40" width="6.10" height="20.70" fill="#000000" stroke="#101030" stroke-opacity="0.55" stroke-width="0.45"/>
<rect x="372.80" y="400.30" width="6.10" height="3.80" fill="#0000f0" stroke="#101030" stroke-opacity="0.55" stroke-width="0.45"/>
<line x1="382.35" y1="396.00" x2="382.35" y2="397.00" stroke="#707070" stroke-width="0.65"/>
<line x1="381.25" y1="396.00" x2="383.45" y2="396.00" stroke="#707070" stroke-width="0.65"/>
<rect x="379.30" y="397.20" width="6.10" height="6.90" fill="#ee1416" stroke="#101030" stroke-opacity="0.55" stroke-width="0.45"/>
<line x1="388.85" y1="397.80" x2="388.85" y2="398.70" stroke="#707070" stroke-width="0.65"/>
<line x1="387.75" y1="397.80" x2="389.95" y2="397.80" stroke="#707070" stroke-width="0.65"/>
<rect x="385.80" y="398.90" width="6.10" height="5.20" fill="#000000" stroke="#101030" stroke-opacity="0.55" stroke-width="0.45"/>
<rect x="402.20" y="398.70" width="6.10" height="5.40" fill="#0000f0" stroke="#101030" stroke-opacity="0.55" stroke-width="0.45"/>
<line x1="411.75" y1="388.30" x2="411.75" y2="393.70" stroke="#707070" stroke-width="0.65"/>
<line x1="410.65" y1="388.30" x2="412.85" y2="388.30" stroke="#707070" stroke-width="0.65"/>
<rect x="408.70" y="393.90" width="6.10" height="10.20" fill="#ee1416" stroke="#101030" stroke-opacity="0.55" stroke-width="0.45"/>
<line x1="418.25" y1="395.00" x2="418.25" y2="398.00" stroke="#707070" stroke-width="0.65"/>
<line x1="417.15" y1="395.00" x2="419.35" y2="395.00" stroke="#707070" stroke-width="0.65"/>
<rect x="415.20" y="398.20" width="6.10" height="5.90" fill="#000000" stroke="#101030" stroke-opacity="0.55" stroke-width="0.45"/>
<rect x="431.90" y="401.20" width="6.10" height="2.90" fill="#0000f0" stroke="#101030" stroke-opacity="0.55" stroke-width="0.45"/>
<rect x="438.40" y="400.10" width="6.10" height="4.00" fill="#ee1416" stroke="#101030" stroke-opacity="0.55" stroke-width="0.45"/>
<rect x="444.90" y="401.40" width="6.10" height="2.70" fill="#000000" stroke="#101030" stroke-opacity="0.55" stroke-width="0.45"/>
<rect x="461.20" y="402.00" width="6.10" height="2.10" fill="#0000f0" stroke="#101030" stroke-opacity="0.55" stroke-width="0.45"/>
<rect x="467.70" y="400.60" width="6.10" height="3.50" fill="#ee1416" stroke="#101030" stroke-opacity="0.55" stroke-width="0.45"/>
<rect x="474.20" y="401.40" width="6.10" height="2.70" fill="#000000" stroke="#101030" stroke-opacity="0.55" stroke-width="0.45"/>
<rect x="490.90" y="392.80" width="6.10" height="11.30" fill="#0000f0" stroke="#101030" stroke-opacity="0.55" stroke-width="0.45"/>
<rect x="497.40" y="390.40" width="6.10" height="13.70" fill="#ee1416" stroke="#101030" stroke-opacity="0.55" stroke-width="0.45"/>
<rect x="503.90" y="388.00" width="6.10" height="16.10" fill="#000000" stroke="#101030" stroke-opacity="0.55" stroke-width="0.45"/>
<text x="323.30" y="413.94" font-size="5.4" text-anchor="middle" font-weight="normal" fill="#2a2a2a" stroke="#2a2a2a" stroke-width="0.12" >Lung</text>
<text x="352.50" y="413.94" font-size="5.4" text-anchor="middle" font-weight="normal" fill="#2a2a2a" stroke="#2a2a2a" stroke-width="0.12" >Kidney</text>
<text x="382.60" y="413.94" font-size="5.4" text-anchor="middle" font-weight="normal" fill="#2a2a2a" stroke="#2a2a2a" stroke-width="0.12" >Jejunum</text>
<text x="411.50" y="413.94" font-size="5.4" text-anchor="middle" font-weight="normal" fill="#2a2a2a" stroke="#2a2a2a" stroke-width="0.12" >Ileum</text>
<text x="441.40" y="410.34" font-size="5.4" text-anchor="middle" font-weight="normal" fill="#2a2a2a" stroke="#2a2a2a" stroke-width="0.12" >Colon</text>
<text x="441.40" y="417.54" font-size="5.4" text-anchor="middle" font-weight="normal" fill="#2a2a2a" stroke="#2a2a2a" stroke-width="0.12" >Ascending</text>
<text x="472.40" y="410.34" font-size="5.4" text-anchor="middle" font-weight="normal" fill="#2a2a2a" stroke="#2a2a2a" stroke-width="0.12" >Colon</text>
<text x="472.40" y="417.54" font-size="5.4" text-anchor="middle" font-weight="normal" fill="#2a2a2a" stroke="#2a2a2a" stroke-width="0.12" >Descending</text>
<text x="500.40" y="413.94" font-size="5.4" text-anchor="middle" font-weight="normal" fill="#2a2a2a" stroke="#2a2a2a" stroke-width="0.12" >Blood</text>
<rect x="434.90" y="340.60" width="3.80" height="3.80" fill="#16169c"/>
<text x="440.10" y="344.44" font-size="5.4" text-anchor="start" font-weight="normal" fill="#444" stroke="#444" stroke-width="0.12" >CD4+ &gt; 1000 cells/µl, n = 1</text>
<rect x="434.90" y="349.50" width="3.80" height="3.80" fill="#a81422"/>
<text x="440.10" y="353.34" font-size="5.4" text-anchor="start" font-weight="normal" fill="#444" stroke="#444" stroke-width="0.12" >100 &lt; CD4+ &lt; 1000 cells/µl, n =3</text>
<rect x="434.90" y="358.40" width="3.80" height="3.80" fill="#000"/>
<text x="440.10" y="362.24" font-size="5.4" text-anchor="start" font-weight="normal" fill="#444" stroke="#444" stroke-width="0.12" >CD4+ &lt; 100 cells/µl, n = 2</text>
<text transform="translate(291.90,431.10) rotate(-90)" font-size="5.85" font-weight="normal" fill="#333" textLength="21.10" lengthAdjust="spacingAndGlyphs">(ex vivo)</text>
<text transform="translate(291.90,407.40) rotate(-90)" font-size="5.85" font-weight="bold" fill="#111" textLength="90.70" lengthAdjust="spacingAndGlyphs">radiotracer retention, Mean (S.E.)</text>
<rect x="122" y="457.2" width="131.6" height="109.40000000000003" fill="none" stroke="#969696" stroke-width="0.8"/>
<line x1="120.20" y1="566.60" x2="122.00" y2="566.60" stroke="#969696" stroke-width="1.0"/>
<text x="119.00" y="568.04" font-size="4.0" text-anchor="end" font-weight="normal" fill="#222" stroke="#222" stroke-width="0.12" >0</text>
<line x1="120.20" y1="554.44" x2="122.00" y2="554.44" stroke="#969696" stroke-width="1.0"/>
<text x="119.00" y="555.88" font-size="4.0" text-anchor="end" font-weight="normal" fill="#222" stroke="#222" stroke-width="0.12" >200</text>
<line x1="120.20" y1="542.29" x2="122.00" y2="542.29" stroke="#969696" stroke-width="1.0"/>
<text x="119.00" y="543.73" font-size="4.0" text-anchor="end" font-weight="normal" fill="#222" stroke="#222" stroke-width="0.12" >400</text>
<line x1="120.20" y1="530.13" x2="122.00" y2="530.13" stroke="#969696" stroke-width="1.0"/>
<text x="119.00" y="531.57" font-size="4.0" text-anchor="end" font-weight="normal" fill="#222" stroke="#222" stroke-width="0.12" >600</text>
<line x1="120.20" y1="517.98" x2="122.00" y2="517.98" stroke="#969696" stroke-width="1.0"/>
<text x="119.00" y="519.42" font-size="4.0" text-anchor="end" font-weight="normal" fill="#222" stroke="#222" stroke-width="0.12" >800</text>
<line x1="120.20" y1="505.82" x2="122.00" y2="505.82" stroke="#969696" stroke-width="1.0"/>
<text x="119.00" y="507.26" font-size="4.0" text-anchor="end" font-weight="normal" fill="#222" stroke="#222" stroke-width="0.12" >1000</text>
<line x1="120.20" y1="493.67" x2="122.00" y2="493.67" stroke="#969696" stroke-width="1.0"/>
<text x="119.00" y="495.11" font-size="4.0" text-anchor="end" font-weight="normal" fill="#222" stroke="#222" stroke-width="0.12" >1200</text>
<line x1="120.20" y1="481.51" x2="122.00" y2="481.51" stroke="#969696" stroke-width="1.0"/>
<text x="119.00" y="482.95" font-size="4.0" text-anchor="end" font-weight="normal" fill="#222" stroke="#222" stroke-width="0.12" >1400</text>
<line x1="120.20" y1="469.36" x2="122.00" y2="469.36" stroke="#969696" stroke-width="1.0"/>
<text x="119.00" y="470.80" font-size="4.0" text-anchor="end" font-weight="normal" fill="#222" stroke="#222" stroke-width="0.12" >1600</text>
<line x1="120.20" y1="457.20" x2="122.00" y2="457.20" stroke="#969696" stroke-width="1.0"/>
<text x="119.00" y="458.64" font-size="4.0" text-anchor="end" font-weight="normal" fill="#222" stroke="#222" stroke-width="0.12" >1800</text>
<line x1="122.00" y1="566.60" x2="122.00" y2="568.40" stroke="#969696" stroke-width="1.0"/>
<text x="122.00" y="573.64" font-size="4.0" text-anchor="middle" font-weight="normal" fill="#222" stroke="#222" stroke-width="0.12" >0</text>
<line x1="154.90" y1="566.60" x2="154.90" y2="568.40" stroke="#969696" stroke-width="1.0"/>
<text x="154.90" y="573.64" font-size="4.0" text-anchor="middle" font-weight="normal" fill="#222" stroke="#222" stroke-width="0.12" >0.5</text>
<line x1="187.80" y1="566.60" x2="187.80" y2="568.40" stroke="#969696" stroke-width="1.0"/>
<text x="187.80" y="573.64" font-size="4.0" text-anchor="middle" font-weight="normal" fill="#222" stroke="#222" stroke-width="0.12" >1</text>
<line x1="220.70" y1="566.60" x2="220.70" y2="568.40" stroke="#969696" stroke-width="1.0"/>
<text x="220.70" y="573.64" font-size="4.0" text-anchor="middle" font-weight="normal" fill="#222" stroke="#222" stroke-width="0.12" >1.5</text>
<line x1="253.60" y1="566.60" x2="253.60" y2="568.40" stroke="#969696" stroke-width="1.0"/>
<text x="253.60" y="573.64" font-size="4.0" text-anchor="middle" font-weight="normal" fill="#222" stroke="#222" stroke-width="0.12" >2</text>
<path d="M134.50,564.69 L135.66,564.60 L136.81,564.50 L137.97,564.39 L139.13,564.29 L140.28,564.17 L141.44,564.05 L142.60,563.92 L143.75,563.79 L144.91,563.65 L146.07,563.51 L147.22,563.35 L148.38,563.19 L149.54,563.02 L150.69,562.85 L151.85,562.66 L153.00,562.46 L154.16,562.26 L155.32,562.04 L156.47,561.82 L157.63,561.58 L158.79,561.33 L159.94,561.07 L161.10,560.80 L162.26,560.51 L163.41,560.21 L164.57,559.89 L165.73,559.56 L166.88,559.21 L168.04,558.84 L169.20,558.46 L170.35,558.05 L171.51,557.63 L172.66,557.18 L173.82,556.72 L174.98,556.23 L176.13,555.71 L177.29,555.17 L178.45,554.61 L179.60,554.01 L180.76,553.39 L181.92,552.73 L183.07,552.05 L184.23,551.33 L185.39,550.57 L186.54,549.77 L187.70,548.94 L188.85,548.06 L190.01,547.14 L191.17,546.18 L192.32,545.17 L193.48,544.11 L194.64,542.99 L195.79,541.82 L196.95,540.59 L198.11,539.30 L199.26,537.95 L200.42,536.53 L201.58,535.04 L202.73,533.47 L203.89,531.83 L205.04,530.11 L206.20,528.30 L207.36,526.40 L208.51,524.41 L209.67,522.31 L210.83,520.12 L211.98,517.81 L213.14,515.40 L214.30,512.86 L215.45,510.19 L216.61,507.40 L217.77,504.46 L218.92,501.38 L220.08,498.15 L221.23,494.76 L222.39,491.19 L223.55,487.46 L224.70,483.53 L225.86,479.41 L227.02,475.09" fill="none" stroke="#cc2ccc" stroke-width="1.3"/>
<circle cx="134.00" cy="564.30" r="1.2" fill="#0a0a28"/>
<circle cx="141.80" cy="565.20" r="1.2" fill="#0a0a28"/>
<circle cx="180.50" cy="552.10" r="1.2" fill="#0a0a28"/>
<circle cx="205.10" cy="530.00" r="1.2" fill="#0a0a28"/>
<circle cx="211.80" cy="528.90" r="1.2" fill="#0a0a28"/>
<circle cx="226.50" cy="463.40" r="1.2" fill="#0a0a28"/>
<text x="128.50" y="466.68" font-size="5.5" text-anchor="start" font-weight="normal" fill="#2a2a2a" stroke="#2a2a2a" stroke-width="0.12" >Tonsil</text>
<text x="187.30" y="583.42" font-size="5.6" text-anchor="middle" font-weight="bold" fill="#111" stroke="#111" stroke-width="0.06" >tissue radiotracer retention</text>
<text x="181.70" y="592.22" font-size="5.6" text-anchor="middle" font-weight="bold" fill="#111" stroke="#111" stroke-width="0.06" >(ex vivo)</text>
<text transform="translate(107.10,543.10) rotate(-90)" font-size="5.7" font-weight="bold" fill="#111" textLength="15.40" lengthAdjust="spacingAndGlyphs">blood</text>
<text transform="translate(107.10,522.30) rotate(-90)" font-size="5.7" font-weight="bold" fill="#111" textLength="32.90" lengthAdjust="spacingAndGlyphs">CD4+T cells/ul</text>
<rect x="287" y="457.4" width="130.2" height="108.0" fill="none" stroke="#969696" stroke-width="0.8"/>
<line x1="285.20" y1="565.40" x2="287.00" y2="565.40" stroke="#969696" stroke-width="1.0"/>
<text x="284.00" y="566.84" font-size="4.0" text-anchor="end" font-weight="normal" fill="#222" stroke="#222" stroke-width="0.12" >0</text>
<line x1="285.20" y1="553.40" x2="287.00" y2="553.40" stroke="#969696" stroke-width="1.0"/>
<text x="284.00" y="554.84" font-size="4.0" text-anchor="end" font-weight="normal" fill="#222" stroke="#222" stroke-width="0.12" >200</text>
<line x1="285.20" y1="541.40" x2="287.00" y2="541.40" stroke="#969696" stroke-width="1.0"/>
<text x="284.00" y="542.84" font-size="4.0" text-anchor="end" font-weight="normal" fill="#222" stroke="#222" stroke-width="0.12" >400</text>
<line x1="285.20" y1="529.40" x2="287.00" y2="529.40" stroke="#969696" stroke-width="1.0"/>
<text x="284.00" y="530.84" font-size="4.0" text-anchor="end" font-weight="normal" fill="#222" stroke="#222" stroke-width="0.12" >600</text>
<line x1="285.20" y1="517.40" x2="287.00" y2="517.40" stroke="#969696" stroke-width="1.0"/>
<text x="284.00" y="518.84" font-size="4.0" text-anchor="end" font-weight="normal" fill="#222" stroke="#222" stroke-width="0.12" >800</text>
<line x1="285.20" y1="505.40" x2="287.00" y2="505.40" stroke="#969696" stroke-width="1.0"/>
<text x="284.00" y="506.84" font-size="4.0" text-anchor="end" font-weight="normal" fill="#222" stroke="#222" stroke-width="0.12" >1000</text>
<line x1="285.20" y1="493.40" x2="287.00" y2="493.40" stroke="#969696" stroke-width="1.0"/>
<text x="284.00" y="494.84" font-size="4.0" text-anchor="end" font-weight="normal" fill="#222" stroke="#222" stroke-width="0.12" >1200</text>
<line x1="285.20" y1="481.40" x2="287.00" y2="481.40" stroke="#969696" stroke-width="1.0"/>
<text x="284.00" y="482.84" font-size="4.0" text-anchor="end" font-weight="normal" fill="#222" stroke="#222" stroke-width="0.12" >1400</text>
<line x1="285.20" y1="469.40" x2="287.00" y2="469.40" stroke="#969696" stroke-width="1.0"/>
<text x="284.00" y="470.84" font-size="4.0" text-anchor="end" font-weight="normal" fill="#222" stroke="#222" stroke-width="0.12" >1600</text>
<line x1="285.20" y1="457.40" x2="287.00" y2="457.40" stroke="#969696" stroke-width="1.0"/>
<text x="284.00" y="458.84" font-size="4.0" text-anchor="end" font-weight="normal" fill="#222" stroke="#222" stroke-width="0.12" >1800</text>
<line x1="287.00" y1="565.40" x2="287.00" y2="567.20" stroke="#969696" stroke-width="1.0"/>
<text x="287.00" y="572.44" font-size="4.0" text-anchor="middle" font-weight="normal" fill="#222" stroke="#222" stroke-width="0.12" >0</text>
<line x1="319.55" y1="565.40" x2="319.55" y2="567.20" stroke="#969696" stroke-width="1.0"/>
<text x="319.55" y="572.44" font-size="4.0" text-anchor="middle" font-weight="normal" fill="#222" stroke="#222" stroke-width="0.12" >0.5</text>
<line x1="352.10" y1="565.40" x2="352.10" y2="567.20" stroke="#969696" stroke-width="1.0"/>
<text x="352.10" y="572.44" font-size="4.0" text-anchor="middle" font-weight="normal" fill="#222" stroke="#222" stroke-width="0.12" >1</text>
<line x1="384.65" y1="565.40" x2="384.65" y2="567.20" stroke="#969696" stroke-width="1.0"/>
<text x="384.65" y="572.44" font-size="4.0" text-anchor="middle" font-weight="normal" fill="#222" stroke="#222" stroke-width="0.12" >1.5</text>
<line x1="417.20" y1="565.40" x2="417.20" y2="567.20" stroke="#969696" stroke-width="1.0"/>
<text x="417.20" y="572.44" font-size="4.0" text-anchor="middle" font-weight="normal" fill="#222" stroke="#222" stroke-width="0.12" >2</text>
<path d="M308.68,563.50 L309.77,563.41 L310.86,563.31 L311.96,563.21 L313.05,563.10 L314.14,562.99 L315.24,562.87 L316.33,562.75 L317.42,562.62 L318.51,562.48 L319.61,562.34 L320.70,562.19 L321.79,562.04 L322.89,561.87 L323.98,561.70 L325.07,561.52 L326.16,561.33 L327.26,561.13 L328.35,560.93 L329.44,560.71 L330.54,560.48 L331.63,560.24 L332.72,559.99 L333.81,559.73 L334.91,559.45 L336.00,559.16 L337.09,558.86 L338.19,558.54 L339.28,558.20 L340.37,557.85 L341.46,557.48 L342.56,557.10 L343.65,556.69 L344.74,556.27 L345.84,555.83 L346.93,555.36 L348.02,554.87 L349.11,554.36 L350.21,553.82 L351.30,553.26 L352.39,552.66 L353.49,552.04 L354.58,551.39 L355.67,550.71 L356.76,550.00 L357.86,549.25 L358.95,548.46 L360.04,547.63 L361.14,546.77 L362.23,545.86 L363.32,544.91 L364.41,543.91 L365.51,542.86 L366.60,541.77 L367.69,540.62 L368.79,539.41 L369.88,538.14 L370.97,536.82 L372.06,535.42 L373.16,533.96 L374.25,532.43 L375.34,530.83 L376.44,529.14 L377.53,527.38 L378.62,525.52 L379.71,523.58 L380.81,521.54 L381.90,519.41 L382.99,517.17 L384.09,514.82 L385.18,512.35 L386.27,509.77 L387.36,507.06 L388.46,504.22 L389.55,501.24 L390.64,498.11 L391.74,494.84 L392.83,491.40 L393.92,487.80 L395.01,484.02 L396.11,480.05" fill="none" stroke="#cc2ccc" stroke-width="1.3"/>
<circle cx="308.40" cy="563.50" r="1.2" fill="#0a0a28"/>
<circle cx="319.00" cy="563.80" r="1.2" fill="#0a0a28"/>
<circle cx="345.00" cy="551.20" r="1.2" fill="#0a0a28"/>
<circle cx="364.20" cy="529.20" r="1.2" fill="#0a0a28"/>
<circle cx="392.10" cy="528.10" r="1.2" fill="#0a0a28"/>
<circle cx="396.00" cy="462.80" r="1.2" fill="#0a0a28"/>
<text x="294.10" y="465.98" font-size="5.5" text-anchor="start" font-weight="normal" fill="#2a2a2a" stroke="#2a2a2a" stroke-width="0.12" >All Lymph</text>
<text x="351.30" y="582.72" font-size="5.6" text-anchor="middle" font-weight="bold" fill="#111" stroke="#111" stroke-width="0.06" >tissue radiotracer retention</text>
<text x="348.00" y="592.22" font-size="5.6" text-anchor="middle" font-weight="bold" fill="#111" stroke="#111" stroke-width="0.06" >(ex vivo)</text>
<text transform="translate(271.50,543.10) rotate(-90)" font-size="5.7" font-weight="bold" fill="#111" textLength="15.40" lengthAdjust="spacingAndGlyphs">blood</text>
<text transform="translate(271.50,522.90) rotate(-90)" font-size="5.7" font-weight="bold" fill="#111" textLength="33.60" lengthAdjust="spacingAndGlyphs">CD4+T cells/ul</text>
</svg>
</body></html>
